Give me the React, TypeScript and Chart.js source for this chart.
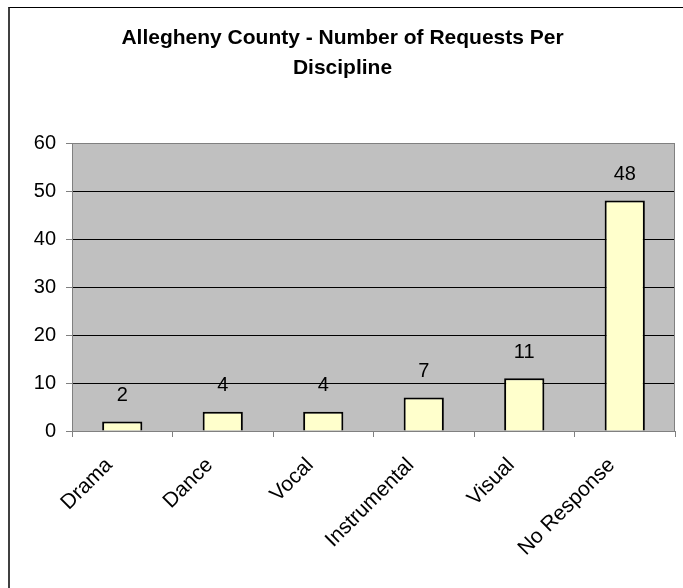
import React, { useEffect, useRef } from "react";
import { Chart, registerables } from "chart.js";

Chart.register(...registerables);

const categories = ["Drama", "Dance", "Vocal", "Instrumental", "Visual", "No Response"];
const requests = [2, 4, 4, 7, 11, 48];
const yTicks = [0, 10, 20, 30, 40, 50, 60];
const titleLines = ["Allegheny County - Number of Requests Per", "Discipline"];

const FONT = "Arial, 'Liberation Sans', sans-serif";

const plotBg = {
  id: "plotBg",
  beforeDraw(chart: any) {
    const { ctx, chartArea: a } = chart;
    ctx.save();
    ctx.fillStyle = "#C0C0C0";
    ctx.fillRect(a.left, a.top, a.right - a.left, a.bottom - a.top);
    ctx.restore();
  },
  afterDraw(chart: any) {
    const { ctx, chartArea: a } = chart;
    ctx.save();
    ctx.strokeStyle = "#808080";
    ctx.lineWidth = 1;
    ctx.beginPath();
    ctx.moveTo(Math.round(a.right) - 0.5, a.top);
    ctx.lineTo(Math.round(a.right) - 0.5, a.bottom);
    ctx.stroke();
    ctx.restore();
  },
};

const valueLabels = {
  id: "valueLabels",
  afterDatasetsDraw(chart: any) {
    const { ctx } = chart;
    const meta = chart.getDatasetMeta(0);
    ctx.save();
    ctx.font = `20px ${FONT}`;
    ctx.fillStyle = "#000";
    ctx.textAlign = "center";
    ctx.textBaseline = "middle";
    meta.data.forEach((bar: any, i: number) => {
      ctx.fillText(String(requests[i]), bar.x, bar.y - 26);
    });
    ctx.restore();
  },
};

export default function App() {
  const ref = useRef<HTMLCanvasElement>(null);
  useEffect(() => {
    if (!ref.current) return;
    const chart = new Chart(ref.current, {
      type: "bar",
      data: {
        labels: categories,
        datasets: [
          {
            data: requests,
            backgroundColor: "#FFFFCC",
            borderColor: "#000000",
            borderWidth: 2,
            barPercentage: 0.4,
            categoryPercentage: 1,
          },
        ],
      },
      options: {
        responsive: false,
        animation: false,
        layout: { padding: { left: 0, right: 8, top: 0, bottom: 0 } },
        plugins: {
          legend: { display: false },
          tooltip: { enabled: false },
          title: {
            display: true,
            text: titleLines,
            color: "#000",
            font: { family: FONT, size: 21, weight: "bold", lineHeight: 30 / 21 },
            padding: { top: 15, bottom: 60 },
          },
        },
        scales: {
          x: {
            grid: {
              drawOnChartArea: false,
              drawTicks: true,
              tickLength: 6,
              color: "#808080",
              offset: true,
            },
            border: { color: "#808080", width: 1 },
            ticks: {
              color: "#000",
              font: { family: FONT, size: 21 },
              minRotation: 45,
              maxRotation: 45,
              padding: 16,
              labelOffset: -13,
            },
            afterFit(scale: any) {
              scale.height = 157;
            },
          },
          y: {
            min: 0,
            max: 60,
            afterBuildTicks(scale: any) {
              scale.ticks = yTicks.map((v) => ({ value: v }));
            },
            grid: {
              color: (c: any) =>
                c.tick && (c.tick.value === 0 || c.tick.value === 60) ? "#808080" : "#000000",
              tickColor: "#808080",
              tickLength: 6,
              lineWidth: 1,
            },
            border: { color: "#808080", width: 1 },
            ticks: {
              color: "#000",
              font: { family: FONT, size: 20 },
              padding: 10,
            },
            afterFit(scale: any) {
              scale.width = 62;
            },
          },
        },
      },
      plugins: [plotBg, valueLabels],
    });
    return () => chart.destroy();
  }, []);

  return (
    <div
      style={{
        position: "fixed",
        left: 8,
        top: 7,
        width: 675,
        height: 581,
        borderTop: "1px solid #000",
        borderLeft: "2px solid #404040",
        background: "#fff",
        overflow: "hidden",
      }}
    >
      <canvas ref={ref} width={673} height={580} style={{ display: "block" }} />
    </div>
  );
}
